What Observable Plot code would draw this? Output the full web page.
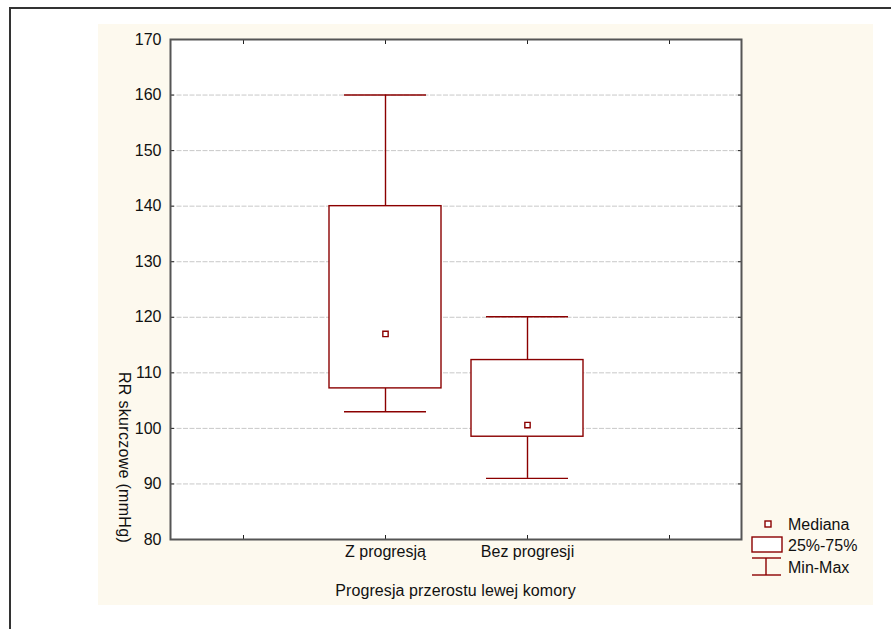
<!DOCTYPE html>
<html><head><meta charset="utf-8">
<script src="https://cdn.jsdelivr.net/npm/d3@7"></script>
<script src="https://cdn.jsdelivr.net/npm/@observablehq/plot@0.6"></script>
<style>
body{margin:0;background:#fff;font-family:Arial,"Liberation Sans",sans-serif;color:#111;}
#wrap{position:relative;width:891px;height:629px;overflow:hidden;}
#border{position:absolute;left:9px;top:7px;width:900px;height:700px;border-left:2px solid #333;border-top:2px solid #333;}
#panel{position:absolute;left:98px;top:24px;width:775px;height:581px;background:#fdf9ee;}
#chart{position:absolute;left:0;top:0;}
#xlabel{position:absolute;left:170px;width:571px;top:581px;text-align:center;font-size:16px;line-height:19px;letter-spacing:0.1px;}
#ylabel{position:absolute;left:115px;top:372px;writing-mode:vertical-rl;font-size:16px;line-height:19px;white-space:nowrap;letter-spacing:0.3px;}
#legend{position:absolute;left:740px;top:510px;}
</style></head>
<body>
<div id="wrap">
  <div id="border"></div>
  <div id="panel"></div>
  <div id="chart"></div>
  <div id="xlabel"></div>
  <div id="ylabel"></div>
  <div id="legend"></div>
</div>
<script>
// ---- data ----
const categories = ["Z progresją", "Bez progresji"];
const minVals = [103, 91];
const q1Vals = [107.2, 98.5];
const medians = [117, 100.6];
const q3Vals = [140, 112.3];
const maxVals = [160, 120.1];
const yTicks = [80, 90, 100, 110, 120, 130, 140, 150, 160, 170];
const gridVals = [90, 100, 110, 120, 130, 140, 150, 160];
const xTitle = "Progresja przerostu lewej komory";
const yTitle = "RR skurczowe (mmHg)";
const legendLabels = ["Mediana", "25%-75%", "Min-Max"];

const red = "#8b0000";
const rows = categories.map((c, i) => ({cat: c, min: minVals[i], q1: q1Vals[i], med: medians[i], q3: q3Vals[i], max: maxVals[i]}));
const xDomain = ["_a", ...categories, "_b"];
const xFmt = d => categories.includes(d) ? d : "";

const chart = Plot.plot({
  width: 891, height: 629,
  marginLeft: 170, marginRight: 150, marginTop: 39, marginBottom: 90,
  style: {background: "transparent", fontFamily: "Arial, 'Liberation Sans', sans-serif", fontSize: "16px", color: "#111"},
  x: {type: "band", domain: xDomain, padding: 0, label: null},
  y: {domain: [80, 170], label: null},
  marks: [
    Plot.frame({fill: "white", stroke: null}),
    Plot.ruleY(gridVals, {stroke: "#c8c8c8", strokeDasharray: "5,1.5"}),
    Plot.ruleX(rows, {x: "cat", y1: "min", y2: "q1", stroke: red, strokeWidth: 1.4}),
    Plot.ruleX(rows, {x: "cat", y1: "q3", y2: "max", stroke: red, strokeWidth: 1.4}),
    Plot.tickY(rows, {x: "cat", y: "min", insetLeft: 30, insetRight: 30, stroke: red, strokeWidth: 1.4}),
    Plot.tickY(rows, {x: "cat", y: "max", insetLeft: 30, insetRight: 30, stroke: red, strokeWidth: 1.4}),
    Plot.barY(rows, {x: "cat", y1: "q1", y2: "q3", insetLeft: 15, insetRight: 15, fill: "white", stroke: red, strokeWidth: 1.4}),
    Plot.dot(rows, {x: "cat", y: "med", symbol: "square", r: 3, stroke: red, fill: "white", strokeWidth: 1.4}),
    Plot.axisY({anchor: "left", ticks: yTicks, tickSize: -4, tickPadding: 13, label: null, stroke: "#222"}),
    Plot.axisY({anchor: "right", ticks: yTicks, tickSize: -4, tickFormat: () => "", label: null, stroke: "#222"}),
    Plot.axisX({anchor: "bottom", tickSize: -4, tickPadding: 10, tickFormat: xFmt, label: null, stroke: "#222"}),
    Plot.axisX({anchor: "top", tickSize: -4, tickFormat: () => "", label: null, stroke: "#222"}),
    Plot.frame({stroke: "#555", strokeWidth: 2})
  ]
});
document.getElementById("chart").appendChild(chart);
document.getElementById("xlabel").textContent = xTitle;
document.getElementById("ylabel").textContent = yTitle;

// ---- legend ----
const lg = d3.select("#legend").append("svg").attr("width", 145).attr("height", 75)
  .style("font-family", "Arial, 'Liberation Sans', sans-serif").style("font-size", "16px");
// median marker
lg.append("rect").attr("x", 25).attr("y", 11).attr("width", 6).attr("height", 6)
  .attr("fill", "white").attr("stroke", red).attr("stroke-width", 1.4);
// box
lg.append("rect").attr("x", 12).attr("y", 27).attr("width", 30).attr("height", 15)
  .attr("fill", "white").attr("stroke", red).attr("stroke-width", 1.4);
// whisker
lg.append("line").attr("x1", 12).attr("x2", 41).attr("y1", 48).attr("y2", 48).attr("stroke", red).attr("stroke-width", 1.4);
lg.append("line").attr("x1", 12).attr("x2", 41).attr("y1", 65).attr("y2", 65).attr("stroke", red).attr("stroke-width", 1.4);
lg.append("line").attr("x1", 26).attr("x2", 26).attr("y1", 48).attr("y2", 65).attr("stroke", red).attr("stroke-width", 1.4);
const ty = [14, 35, 57];
legendLabels.forEach((t, i) => {
  lg.append("text").attr("x", 48).attr("y", ty[i]).attr("dy", "0.35em").attr("fill", "#111").text(t);
});
</script>
</body></html>
